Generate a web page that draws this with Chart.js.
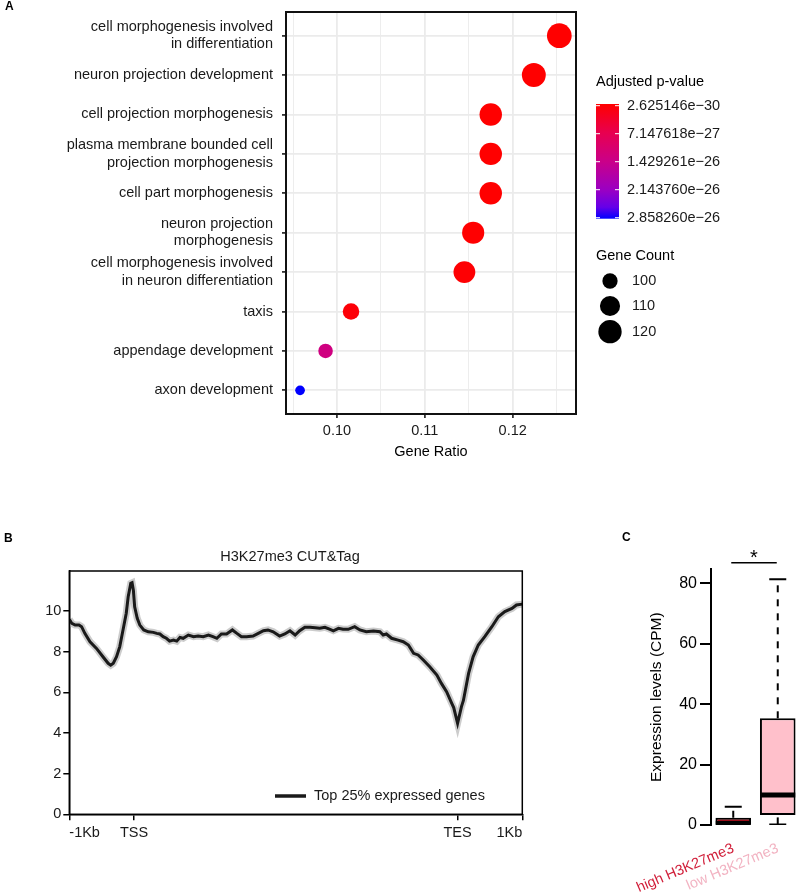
<!DOCTYPE html>
<html>
<head>
<meta charset="utf-8">
<script src="https://cdn.jsdelivr.net/npm/chart.js@4"></script>
<style>
  body { margin: 0; background: #fff; }
  #wrap { position: relative; width: 800px; height: 896px; overflow: hidden; font-family: 'Liberation Sans', Arial, sans-serif; }
  canvas { position: absolute; }
  .tag { position: absolute; font-weight: bold; font-size: 12px; line-height: 12px; color: #000; }
</style>
</head>
<body>
<div id="wrap">
  <canvas id="chartA" width="800" height="470" style="left:0;top:0"></canvas>
  <canvas id="chartB" width="560" height="340" style="left:0;top:530px"></canvas>
  <canvas id="chartC" width="200" height="376" style="left:600px;top:520px"></canvas>
  <div class="tag" style="left:5px;top:0">A</div>
  <div class="tag" style="left:4px;top:532px">B</div>
  <div class="tag" style="left:622px;top:531px">C</div>
</div>
<script>
// ---- panel A: GO enrichment dot plot ----
const goTerms = [
  'cell morphogenesis involved\nin differentiation',
  'neuron projection development',
  'cell projection morphogenesis',
  'plasma membrane bounded cell\nprojection morphogenesis',
  'cell part morphogenesis',
  'neuron projection\nmorphogenesis',
  'cell morphogenesis involved\nin neuron differentiation',
  'taxis',
  'appendage development',
  'axon development'
];
const geneRatio = [0.1253, 0.1224, 0.1175, 0.1175, 0.1175, 0.1155, 0.1145, 0.1016, 0.0987, 0.0958];
const geneCount = [125, 122, 117, 117, 117, 116, 115, 102, 99, 96];
const padj = [2.625146e-30, 8.4e-30, 3.1e-29, 3.1e-29, 4.5e-29, 1.2e-28, 2.3e-28, 6.5e-28, 1.32e-26, 2.858260e-26];
const pvalBreaks = [2.625146e-30, 7.147618e-27, 1.429261e-26, 2.143760e-26, 2.858260e-26];
const countBreaks = [100, 110, 120];
const ratioTicks = [0.095, 0.10, 0.105, 0.11, 0.115, 0.12, 0.125];

// ---- panel B: H3K27me3 profile (0 = -1Kb, 100 = TSS, 600 = TES, 700 = 1Kb) ----
const profilePos = [0, 4, 9, 15, 19, 24, 32, 42, 52, 60, 64, 68, 73, 78, 83, 88, 91, 95, 97, 99,
  101, 105, 109, 115, 122, 130, 135, 140, 145, 150, 155, 161, 166, 171, 176, 184, 192, 199, 207, 215,
  222, 228, 235, 243, 252, 259, 266, 274, 284, 292, 300, 307, 315, 325, 333, 341, 349, 356, 364, 372,
  380, 387, 395, 403, 408, 416, 423, 431, 441, 449, 459, 470, 480, 485, 490, 498, 508, 516, 524, 532,
  539, 547, 557, 568, 575, 583, 591, 594, 600, 606, 609, 617, 624, 632, 642, 653, 663, 673, 684, 691, 700];
const profileVal = [9.59, 9.39, 9.31, 9.31, 9.23, 8.90, 8.49, 8.16, 7.75, 7.43, 7.34, 7.43, 7.75, 8.25, 9.07, 9.89, 10.70, 11.36, 11.39, 11.03,
  10.21, 9.64, 9.31, 9.07, 8.98, 8.95, 8.90, 8.87, 8.74, 8.66, 8.52, 8.57, 8.52, 8.70, 8.66, 8.82, 8.74, 8.77, 8.74, 8.82,
  8.74, 8.66, 8.87, 8.87, 9.07, 8.90, 8.74, 8.74, 8.77, 8.90, 9.03, 9.07, 8.98, 8.77, 8.87, 9.03, 8.82, 9.03, 9.20, 9.20,
  9.18, 9.15, 9.20, 9.10, 9.03, 9.15, 9.11, 9.10, 9.23, 9.07, 8.98, 9.02, 8.98, 8.82, 8.87, 8.66, 8.57, 8.49, 8.33, 7.92,
  7.84, 7.59, 7.26, 6.85, 6.44, 6.03, 5.46, 5.25, 4.48, 5.30, 5.60, 6.93, 7.75, 8.33, 8.74, 9.23, 9.72, 9.97, 10.13, 10.30, 10.34];
const regionTickPos = [0, 100, 600, 700];
const regionTickLabels = ['-1Kb', 'TSS', 'TES', '1Kb'];

// ---- panel C: expression boxplots ----
const groups = ['high H3K27me3', 'low H3K27me3'];
const whiskLow = [0, 0.2];
const q1 = [0.05, 3.3];
const medians = [0.6, 9.9];
const q3 = [2.4, 35.3];
const whiskHigh = [6.07, 81.3];

const FONT = "'Liberation Sans', Arial, sans-serif";
Chart.defaults.font.family = FONT;
Chart.defaults.color = '#1a1a1a';
Chart.defaults.animation = false;

const pmin = pvalBreaks[0], pmax = pvalBreaks[pvalBreaks.length - 1];
const palStops = [[0, [255, 0, 0]], [0.25, [232, 0, 79]], [0.5, [202, 0, 137]], [0.75, [154, 0, 195]], [0.9, [101, 0, 233]], [1, [0, 0, 255]]];
function palAt(t) {
  t = Math.max(0, Math.min(1, t));
  for (let i = 1; i < palStops.length; i++) {
    const [t1, c1] = palStops[i], [t0, c0] = palStops[i - 1];
    if (t <= t1) {
      const f = (t - t0) / (t1 - t0);
      return 'rgb(' + c0.map((c, k) => Math.round(c + (c1[k] - c) * f)).join(',') + ')';
    }
  }
}
const pColor = p => palAt((p - pmin) / (pmax - pmin));
const cMin = 96, cMax = 125;
const dotRadius = c => (9.7 + 15 * Math.sqrt(Math.max(0, (c - cMin) / (cMax - cMin)))) / 2;
const isMajor = v => Math.abs(v * 100 - Math.round(v * 100)) < 1e-6;
// stop chart.js from reserving room for half-labels at the axis ends
const noEdgePad = s => { s.paddingTop = 0; s.paddingBottom = 0; s.paddingLeft = 0; s.paddingRight = 0; };

const legendA = {
  id: 'legendA',
  afterDraw(chart) {
    const ctx = chart.ctx;
    const {left, top, width, height} = chart.chartArea;
    ctx.save();
    ctx.strokeStyle = '#111';
    ctx.lineWidth = 2;
    ctx.strokeRect(left, top, width, height);

    ctx.font = '14.5px ' + FONT;
    ctx.fillStyle = '#000';
    ctx.textBaseline = 'middle';
    ctx.textAlign = 'left';
    ctx.fillText('Adjusted p-value', 596, 82);
    const barTop = 104, barBot = 218.7, bx = 596, bw = 23;
    const g = ctx.createLinearGradient(0, barTop, 0, barBot);
    palStops.forEach(([t]) => g.addColorStop(t, palAt(t)));
    ctx.fillStyle = g;
    ctx.fillRect(bx, barTop, bw, barBot - barTop);
    ctx.strokeStyle = '#fff';
    ctx.lineWidth = 1;
    pvalBreaks.forEach(p => {
      const y = 105.7 + (p - pmin) / (pmax - pmin) * 112;
      ctx.beginPath();
      ctx.moveTo(bx, y); ctx.lineTo(bx + 4, y);
      ctx.moveTo(bx + bw - 4, y); ctx.lineTo(bx + bw, y);
      ctx.stroke();
      ctx.fillStyle = '#1a1a1a';
      ctx.fillText(p.toExponential(6).replace('e-', 'e\u2212'), 627, y);
    });

    ctx.fillStyle = '#000';
    ctx.fillText('Gene Count', 596, 256);
    const ys = [281, 306, 331.7];
    countBreaks.forEach((c, i) => {
      ctx.beginPath();
      ctx.arc(610, ys[i], dotRadius(c), 0, Math.PI * 2);
      ctx.fillStyle = '#000';
      ctx.fill();
      ctx.fillStyle = '#1a1a1a';
      ctx.fillText(String(c), 632, ys[i]);
    });
    ctx.restore();
  }
};

new Chart(document.getElementById('chartA'), {
  type: 'bubble',
  data: {
    datasets: [{
      data: geneRatio.map((x, i) => ({x: x, y: i, r: dotRadius(geneCount[i])})),
      backgroundColor: padj.map(pColor),
      borderWidth: 0,
      hoverRadius: 0
    }]
  },
  options: {
    responsive: false,
    devicePixelRatio: 1,
    events: [],
    layout: {autoPadding: false, padding: {top: 12, right: 224, left: 0, bottom: 0}},
    plugins: {legend: {display: false}, tooltip: {enabled: false}},
    scales: {
      x: {
        type: 'linear', min: 0.0942, max: 0.1272,
        afterBuildTicks: s => { s.ticks = ratioTicks.map(v => ({value: v})); },
        afterFit: s => { s.height = 56; noEdgePad(s); },
        border: {display: false},
        grid: {
          color: '#ebebeb',
          lineWidth: c => (c.tick && isMajor(c.tick.value)) ? 1.8 : 0.9,
          tickColor: c => (c.tick && isMajor(c.tick.value)) ? '#333' : 'rgba(0,0,0,0)',
          tickLength: 4
        },
        ticks: {
          autoSkip: false, maxRotation: 0, padding: 4,
          font: {size: 14.5}, color: '#1a1a1a',
          callback: v => isMajor(v) ? v.toFixed(2) : ''
        },
        title: {display: true, text: 'Gene Ratio', font: {size: 14.5}, color: '#000', padding: {top: 0, bottom: 9}}
      },
      y: {
        type: 'linear', reverse: true, min: -0.6, max: 9.6,
        afterBuildTicks: s => { s.ticks = goTerms.map((t, i) => ({value: i})); },
        afterFit: s => { s.width = 286; noEdgePad(s); },
        border: {display: false},
        grid: {color: '#ebebeb', lineWidth: 1.8, tickColor: '#333', tickLength: 4},
        ticks: {
          autoSkip: false, padding: 9,
          font: {size: 14.5}, color: '#1a1a1a',
          callback: v => goTerms[v].split('\n')
        }
      }
    }
  },
  plugins: [legendA]
});

// ---- panel B ----
const frameB = {
  id: 'frameB',
  afterDraw(chart) {
    const ctx = chart.ctx;
    const {left, top, width, height} = chart.chartArea;
    ctx.save();
    ctx.strokeStyle = '#000';
    ctx.lineWidth = 1.5;
    ctx.strokeRect(left, top, width, height);
    ctx.font = '14.5px ' + FONT;
    ctx.fillStyle = '#1a1a1a';
    ctx.textAlign = 'center';
    ctx.textBaseline = 'middle';
    ctx.fillText('H3K27me3 CUT&Tag', 290, 27);
    ctx.strokeStyle = '#1a1a1a';
    ctx.lineWidth = 3.5;
    ctx.beginPath();
    ctx.moveTo(275, 266); ctx.lineTo(306, 266);
    ctx.stroke();
    ctx.textAlign = 'left';
    ctx.fillText('Top 25% expressed genes', 314, 266);
    ctx.restore();
  }
};

const profilePts = profilePos.map((x, i) => ({x: x, y: profileVal[i]}));
new Chart(document.getElementById('chartB'), {
  type: 'line',
  data: {
    datasets: [
      {data: profilePts, borderColor: '#1a1a1a', borderWidth: 3, pointRadius: 0, order: 1},
      {data: profilePts, borderColor: 'rgba(170,170,170,0.6)', borderWidth: 7, pointRadius: 0, order: 2}
    ]
  },
  options: {
    responsive: false,
    devicePixelRatio: 1,
    events: [],
    layout: {autoPadding: false, padding: {top: 41, right: 37.7, left: 0, bottom: 0}},
    plugins: {legend: {display: false}, tooltip: {enabled: false}},
    scales: {
      x: {
        type: 'linear', min: 0, max: 700,
        afterBuildTicks: s => { s.ticks = regionTickPos.map(v => ({value: v})); },
        afterFit: s => { s.height = 55.7; noEdgePad(s); },
        border: {display: true, color: '#000', width: 1.5},
        grid: {drawOnChartArea: false, tickLength: 6, tickColor: '#000', lineWidth: 1.5},
        ticks: {
          autoSkip: false, maxRotation: 0, align: 'inner', padding: 4,
          font: {size: 14.5}, color: '#1a1a1a',
          callback: (v, i) => regionTickLabels[i]
        }
      },
      y: {
        type: 'linear', min: 0, max: 11.97,
        afterBuildTicks: s => { s.ticks = [0, 2, 4, 6, 8, 10].map(v => ({value: v})); },
        afterFit: s => { s.width = 69.3; noEdgePad(s); },
        border: {display: true, color: '#000', width: 1.5},
        grid: {drawOnChartArea: false, tickLength: 6, tickColor: '#000', lineWidth: 1.5},
        ticks: {padding: 2, font: {size: 14.5}, color: '#1a1a1a'}
      }
    }
  },
  plugins: [frameB]
});

// ---- panel C ----
const boxFill = ['#cc1020', '#ffc0cb'];
const groupColors = ['#d11f3a', '#f2b3c2'];
const sigC = {
  id: 'sigC',
  afterDraw(chart) {
    const ctx = chart.ctx;
    const xs = chart.scales.x;
    const x0 = xs.getPixelForValue(0) - 2, x1 = xs.getPixelForValue(1) - 1;
    ctx.save();
    ctx.strokeStyle = '#000';
    ctx.lineWidth = 1.5;
    ctx.beginPath();
    ctx.moveTo(x0, 42.7); ctx.lineTo(x1, 42.7);
    ctx.stroke();
    ctx.font = '20px ' + FONT;
    ctx.fillStyle = '#000';
    ctx.textAlign = 'center';
    ctx.textBaseline = 'alphabetic';
    ctx.fillText('*', (x0 + x1) / 2, 44.3);
    ctx.restore();
  }
};

const whiskerSets = [];
groups.forEach((gname, i) => {
  whiskerSets.push({
    type: 'line', data: [{x: gname, y: q3[i]}, {x: gname, y: whiskHigh[i]}],
    borderColor: '#000', borderWidth: 2, borderDash: [7, 7], pointRadius: 0, order: 4
  });
  whiskerSets.push({
    type: 'line', data: [{x: gname, y: whiskLow[i]}, {x: gname, y: q1[i]}],
    borderColor: '#000', borderWidth: 2, borderDash: [7, 7], pointRadius: 0, order: 4
  });
});

new Chart(document.getElementById('chartC'), {
  type: 'bar',
  data: {
    labels: groups,
    datasets: [
      {
        type: 'bar', data: q1.map((v, i) => [v, q3[i]]),
        backgroundColor: boxFill, borderColor: '#000', borderWidth: 2, borderSkipped: false,
        barPercentage: 0.8, categoryPercentage: 1, order: 3
      },
      {
        type: 'line', data: medians, showLine: false, pointStyle: 'line',
        pointRadius: 17.5, pointBorderWidth: 5, pointBorderColor: '#000', order: 1
      },
      {
        type: 'line', data: whiskHigh, showLine: false, pointStyle: 'line',
        pointRadius: 8.5, pointBorderWidth: 2, pointBorderColor: '#000', order: 2
      },
      {
        type: 'line', data: whiskLow, showLine: false, pointStyle: 'line',
        pointRadius: 8.5, pointBorderWidth: 2, pointBorderColor: '#000', order: 2
      },
      ...whiskerSets
    ]
  },
  options: {
    responsive: false,
    devicePixelRatio: 1,
    events: [],
    layout: {autoPadding: false, padding: {top: 49.3, right: 0, left: 0, bottom: 0}},
    plugins: {legend: {display: false}, tooltip: {enabled: false}},
    scales: {
      x: {
        type: 'category',
        afterFit: s => { s.height = 71; noEdgePad(s); },
        border: {display: false},
        grid: {display: false},
        ticks: {
          autoSkip: false, minRotation: 23, maxRotation: 23, padding: 7,
          font: {size: 14.5}, color: c => groupColors[c.index]
        }
      },
      y: {
        type: 'linear', min: 0, max: 84.6,
        afterBuildTicks: s => { s.ticks = [0, 20, 40, 60, 80].map(v => ({value: v})); },
        afterFit: s => { s.width = 111; noEdgePad(s); },
        border: {display: true, color: '#000', width: 2},
        grid: {drawOnChartArea: false, tickLength: 11, tickColor: '#000', lineWidth: 2},
        ticks: {padding: 3, font: {size: 16}, color: '#000'},
        title: {display: true, text: 'Expression levels (CPM)', font: {size: 15.5}, color: '#000', padding: {top: 47.4, bottom: 0}}
      }
    }
  },
  plugins: [sigC]
});
</script>
</body>
</html>
